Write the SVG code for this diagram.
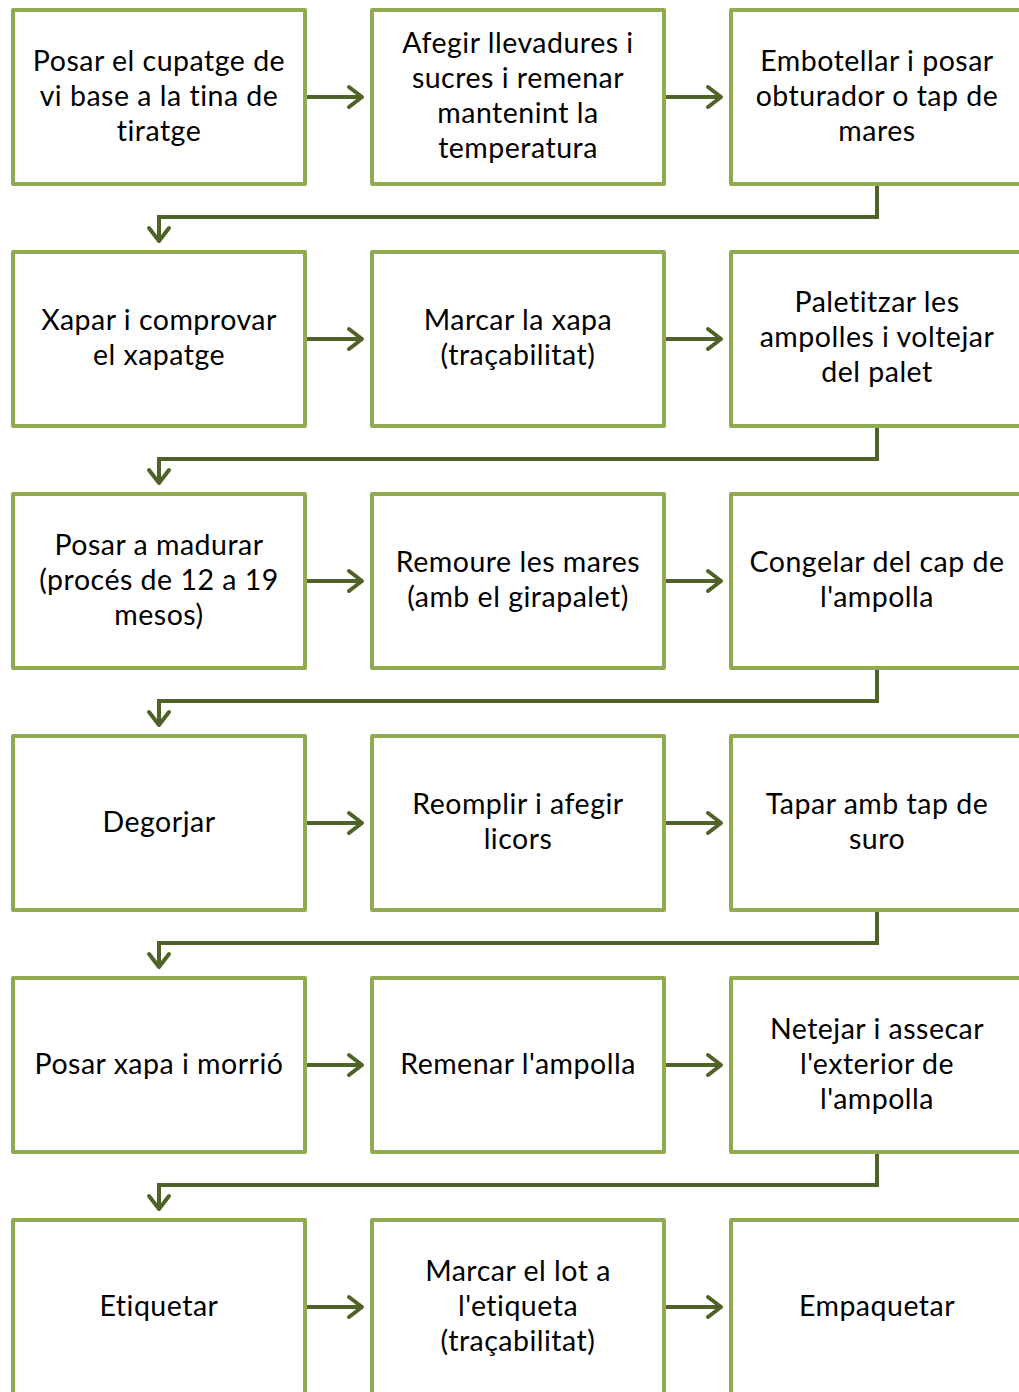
<svg xmlns="http://www.w3.org/2000/svg" width="1019" height="1392" viewBox="0 0 1019 1392">
<defs>
<marker id="ah" markerUnits="userSpaceOnUse" markerWidth="20" markerHeight="26" refX="17" refY="13" orient="auto" viewBox="0 0 20 26">
<polyline points="4,3 17,13 4,23" fill="none" stroke="#4F6228" stroke-width="4" stroke-linecap="round" stroke-linejoin="round"/>
</marker>
</defs>
<style>
.box{fill:#fff;stroke:#8FAA4F;stroke-width:4;stroke-linejoin:round}
.t{font-family:Lato,"Liberation Sans",sans-serif;font-size:28.5px;letter-spacing:0.5px;fill:#000;text-anchor:middle}
.c{fill:none;stroke:#4F6228;stroke-width:4;marker-end:url(#ah)}
</style>
<rect width="1019" height="1392" fill="#fff"/>
<g id="n1"><rect class="box" x="13" y="10" width="292" height="174"/><text class="t"><tspan x="159" y="71">Posar el cupatge de</tspan><tspan x="159" y="106">vi base a la tina de</tspan><tspan x="159" y="141">tiratge</tspan></text></g>
<g id="n2"><rect class="box" x="372" y="10" width="292" height="174"/><text class="t"><tspan x="518" y="53">Afegir llevadures i</tspan><tspan x="518" y="88">sucres i remenar</tspan><tspan x="518" y="123">mantenint la</tspan><tspan x="518" y="158">temperatura</tspan></text></g>
<g id="n3"><rect class="box" x="731" y="10" width="292" height="174"/><text class="t"><tspan x="877" y="71">Embotellar i posar</tspan><tspan x="877" y="106">obturador o tap de</tspan><tspan x="877" y="141">mares</tspan></text></g>
<g id="n4"><rect class="box" x="13" y="252" width="292" height="174"/><text class="t"><tspan x="159" y="330">Xapar i comprovar</tspan><tspan x="159" y="365">el xapatge</tspan></text></g>
<g id="n5"><rect class="box" x="372" y="252" width="292" height="174"/><text class="t"><tspan x="518" y="330">Marcar la xapa</tspan><tspan x="518" y="365">(traçabilitat)</tspan></text></g>
<g id="n6"><rect class="box" x="731" y="252" width="292" height="174"/><text class="t"><tspan x="877" y="312">Paletitzar les</tspan><tspan x="877" y="347">ampolles i voltejar</tspan><tspan x="877" y="382">del palet</tspan></text></g>
<g id="n7"><rect class="box" x="13" y="494" width="292" height="174"/><text class="t"><tspan x="159" y="555">Posar a madurar</tspan><tspan x="159" y="590">(procés de 12 a 19</tspan><tspan x="159" y="625">mesos)</tspan></text></g>
<g id="n8"><rect class="box" x="372" y="494" width="292" height="174"/><text class="t"><tspan x="518" y="572">Remoure les mares</tspan><tspan x="518" y="607">(amb el girapalet)</tspan></text></g>
<g id="n9"><rect class="box" x="731" y="494" width="292" height="174"/><text class="t"><tspan x="877" y="572">Congelar del cap de</tspan><tspan x="877" y="607">l'ampolla</tspan></text></g>
<g id="n10"><rect class="box" x="13" y="736" width="292" height="174"/><text class="t"><tspan x="159" y="832">Degorjar</tspan></text></g>
<g id="n11"><rect class="box" x="372" y="736" width="292" height="174"/><text class="t"><tspan x="518" y="814">Reomplir i afegir</tspan><tspan x="518" y="849">licors</tspan></text></g>
<g id="n12"><rect class="box" x="731" y="736" width="292" height="174"/><text class="t"><tspan x="877" y="814">Tapar amb tap de</tspan><tspan x="877" y="849">suro</tspan></text></g>
<g id="n13"><rect class="box" x="13" y="978" width="292" height="174"/><text class="t"><tspan x="159" y="1074">Posar xapa i morrió</tspan></text></g>
<g id="n14"><rect class="box" x="372" y="978" width="292" height="174"/><text class="t"><tspan x="518" y="1074">Remenar l'ampolla</tspan></text></g>
<g id="n15"><rect class="box" x="731" y="978" width="292" height="174"/><text class="t"><tspan x="877" y="1039">Netejar i assecar</tspan><tspan x="877" y="1074">l'exterior de</tspan><tspan x="877" y="1109">l'ampolla</tspan></text></g>
<g id="n16"><rect class="box" x="13" y="1220" width="292" height="174"/><text class="t"><tspan x="159" y="1316">Etiquetar</tspan></text></g>
<g id="n17"><rect class="box" x="372" y="1220" width="292" height="174"/><text class="t"><tspan x="518" y="1281">Marcar el lot a</tspan><tspan x="518" y="1316">l'etiqueta</tspan><tspan x="518" y="1351">(traçabilitat)</tspan></text></g>
<g id="n18"><rect class="box" x="731" y="1220" width="292" height="174"/><text class="t"><tspan x="877" y="1316">Empaquetar</tspan></text></g>
<g id="connectors">
<path class="c" d="M307,97 H362"/>
<path class="c" d="M666,97 H721"/>
<path class="c" d="M877,186 V217 H159 V241"/>
<path class="c" d="M307,339 H362"/>
<path class="c" d="M666,339 H721"/>
<path class="c" d="M877,428 V459 H159 V483"/>
<path class="c" d="M307,581 H362"/>
<path class="c" d="M666,581 H721"/>
<path class="c" d="M877,670 V701 H159 V725"/>
<path class="c" d="M307,823 H362"/>
<path class="c" d="M666,823 H721"/>
<path class="c" d="M877,912 V943 H159 V967"/>
<path class="c" d="M307,1065 H362"/>
<path class="c" d="M666,1065 H721"/>
<path class="c" d="M877,1154 V1185 H159 V1209"/>
<path class="c" d="M307,1307 H362"/>
<path class="c" d="M666,1307 H721"/>
</g>
</svg>
